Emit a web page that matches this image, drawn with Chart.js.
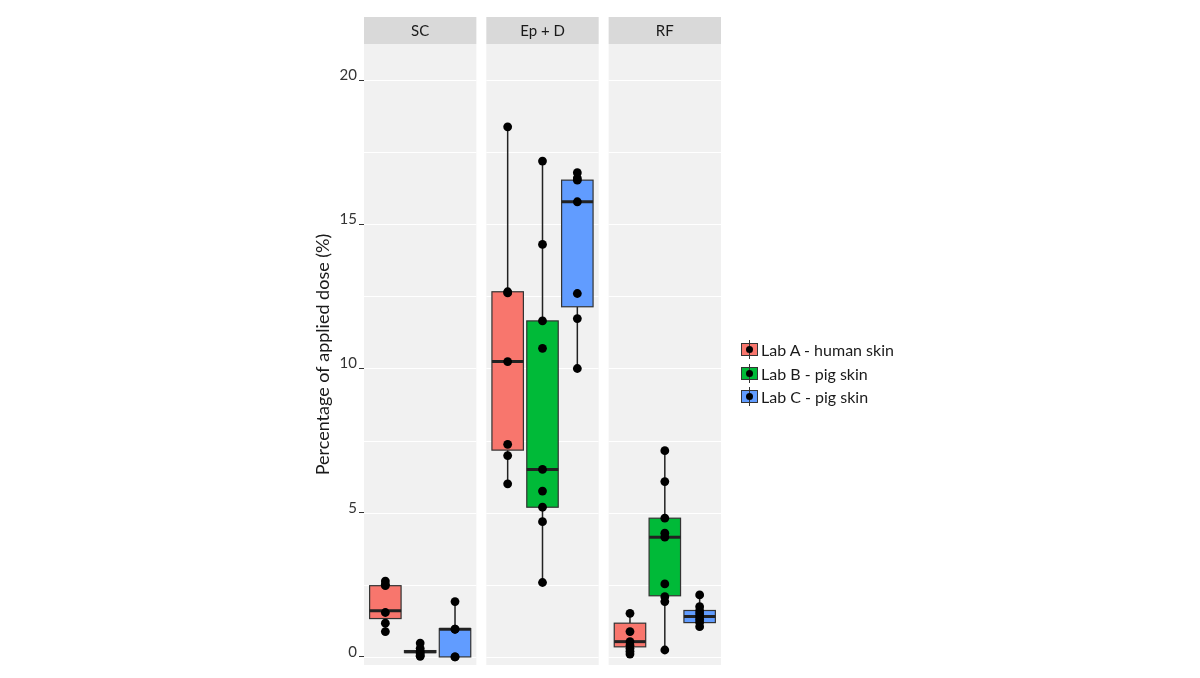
<!DOCTYPE html>
<html>
<head>
<meta charset="utf-8">
<script src="https://cdn.jsdelivr.net/npm/chart.js@4"></script>
<style>
  body { margin: 0; background: #fff; }
  #wrap { position: relative; width: 1200px; height: 678px; }
  #legend { position: absolute; left: 741px; top: 338px; font-family: Lato, sans-serif; font-size: 16px; color: #1a1a1a; }
  .row { display: flex; align-items: center; height: 23.5px; }
  .key { position: relative; width: 17px; height: 19px; margin-right: 3px; }
  .key .stem { position: absolute; left: 8px; top: 0; width: 1px; height: 19px; background: #333; }
  .key .box { position: absolute; left: 0; top: 3px; width: 15px; height: 11px; border: 1px solid #333; }
  .key .dot { position: absolute; left: 5px; top: 6px; width: 7px; height: 7px; border-radius: 50%; background: #000; }
</style>
</head>
<body>
<div id="wrap">
  <canvas id="chart"></canvas>
  <div id="legend"></div>
</div>
<script>
const panels = ['SC', 'Ep + D', 'RF'];
const labs = ['Lab A - human skin', 'Lab B - pig skin', 'Lab C - pig skin'];
const labColors = ['#f8766d', '#00ba38', '#619cff'];
const yTicks = [0, 5, 10, 15, 20];
const minorTicks = [2.5, 7.5, 12.5, 17.5];

// box stats per panel: [min, q1, median, q3, max]
const labABoxes = [[0.88, 1.33, 1.6, 2.47, 2.63], [6.0, 7.17, 10.24, 12.66, 18.38], [0.1, 0.35, 0.53, 1.17, 1.51]];
const labBBoxes = [[0.02, 0.15, 0.18, 0.22, 0.48], [2.58, 5.19, 6.5, 11.65, 17.19], [0.24, 2.12, 4.15, 4.81, 7.15]];
const labCBoxes = [[0.0, 0.0, 0.96, 0.98, 1.92], [10.0, 12.14, 15.78, 16.53, 16.79], [1.0, 1.19, 1.4, 1.61, 2.15]];

// individual measurements per panel
const labAPoints = [[2.63, 2.52, 2.47, 1.54, 1.17, 0.88], [18.38, 12.66, 12.62, 10.24, 7.37, 6.98, 6.0], [1.51, 0.88, 0.53, 0.4, 0.3, 0.2, 0.1]];
const labBPoints = [[0.48, 0.3, 0.2, 0.12, 0.05, 0.02], [17.19, 14.3, 11.65, 10.7, 6.5, 5.75, 5.19, 4.69, 2.58], [7.15, 6.08, 4.81, 4.29, 4.15, 2.53, 2.09, 1.92, 0.24]];
const labCPoints = [[1.92, 0.96, 0.96, 0.0, 0.0], [16.79, 16.6, 16.53, 15.78, 12.6, 11.73, 10.0], [2.15, 1.74, 1.6, 1.5, 1.4, 1.3, 1.2, 1.05]];

const labBoxes = [labABoxes, labBBoxes, labCBoxes];
const labPoints = [labAPoints, labBPoints, labCPoints];

const gap = 10 / 113;
const labOffsets = [0.19, 0.5, 0.81];
const boxWidth = 0.28;
const panelLeft = i => i * (1 + gap);
const font = 'Lato, sans-serif';

const facetPlugin = {
  id: 'facets',
  beforeDatasetsDraw(chart) {
    const { ctx, chartArea, scales: { x, y } } = chart;
    ctx.save();
    panels.forEach((name, i) => {
      const l = x.getPixelForValue(panelLeft(i));
      const r = x.getPixelForValue(panelLeft(i) + 1);
      ctx.fillStyle = '#f1f1f1';
      ctx.fillRect(l, chartArea.top, r - l, chartArea.bottom - chartArea.top);
      ctx.strokeStyle = '#ffffff';
      ctx.lineWidth = 1;
      yTicks.concat(minorTicks).forEach(v => {
        const py = Math.round(y.getPixelForValue(v)) + 0.5;
        ctx.beginPath();
        ctx.moveTo(l, py);
        ctx.lineTo(r, py);
        ctx.stroke();
      });
      // strip
      ctx.fillStyle = '#d9d9d9';
      ctx.fillRect(l, chartArea.top - 27, r - l, 27);
      ctx.fillStyle = '#1a1a1a';
      ctx.font = '15px ' + font;
      ctx.textAlign = 'center';
      ctx.textBaseline = 'middle';
      ctx.fillText(name, (l + r) / 2, chartArea.top - 13);
    });

    labBoxes.forEach((boxes, k) => {
      boxes.forEach((b, i) => {
        const cx = x.getPixelForValue(panelLeft(i) + labOffsets[k]);
        const x0 = x.getPixelForValue(panelLeft(i) + labOffsets[k] - boxWidth / 2);
        const x1 = x.getPixelForValue(panelLeft(i) + labOffsets[k] + boxWidth / 2);
        const [mn, q1, med, q3, mx] = b.map(v => y.getPixelForValue(v));
        ctx.strokeStyle = '#222';
        ctx.lineWidth = 1.5;
        ctx.beginPath();
        ctx.moveTo(cx, mn); ctx.lineTo(cx, q1);
        ctx.moveTo(cx, q3); ctx.lineTo(cx, mx);
        ctx.stroke();
        ctx.fillStyle = labColors[k];
        ctx.fillRect(x0, q3, x1 - x0, q1 - q3);
        ctx.strokeStyle = '#333';
        ctx.lineWidth = 1.2;
        ctx.strokeRect(x0, q3, x1 - x0, q1 - q3);
        ctx.strokeStyle = '#222';
        ctx.lineWidth = 3;
        ctx.beginPath();
        ctx.moveTo(x0, med); ctx.lineTo(x1, med);
        ctx.stroke();
      });
    });
    ctx.restore();
  }
};

const datasets = labPoints.map((perPanel, k) => ({
  label: labs[k],
  data: perPanel.flatMap((pts, i) => pts.map(v => ({ x: panelLeft(i) + labOffsets[k], y: v }))),
  backgroundColor: '#000',
  borderWidth: 0,
  pointRadius: 4.4,
  clip: false
}));

new Chart(document.getElementById('chart'), {
  type: 'scatter',
  data: { datasets },
  options: {
    responsive: true,
    maintainAspectRatio: false,
    animation: false,
    layout: { padding: { left: 300, top: 44, right: 479, bottom: 13 } },
    plugins: { legend: { display: false }, tooltip: { enabled: false } },
    scales: {
      x: { type: 'linear', display: false, min: 0, max: panelLeft(2) + 1 },
      y: {
        min: -0.28,
        max: 21.25,
        afterBuildTicks: scale => { scale.ticks = yTicks.map(v => ({ value: v })); },
        afterFit: scale => { scale.width = 64; },
        grid: { drawOnChartArea: false, tickLength: 5, color: '#333' },
        border: { display: false },
        ticks: { font: { family: font, size: 15 }, color: '#333', padding: 2, labelOffset: -5 },
        title: {
          display: true,
          text: 'Percentage of applied dose (%)',
          font: { family: font, size: 18 },
          color: '#1a1a1a',
          padding: { top: 12, bottom: 4 }
        }
      }
    }
  },
  plugins: [facetPlugin]
});

const legend = document.getElementById('legend');
labs.forEach((name, k) => {
  const row = document.createElement('div');
  row.className = 'row';
  row.innerHTML = `<div class="key"><div class="stem"></div><div class="box" style="background:${labColors[k]}"></div><div class="stem"></div><div class="dot"></div></div><span>${name}</span>`;
  legend.appendChild(row);
});
</script>
</body>
</html>
